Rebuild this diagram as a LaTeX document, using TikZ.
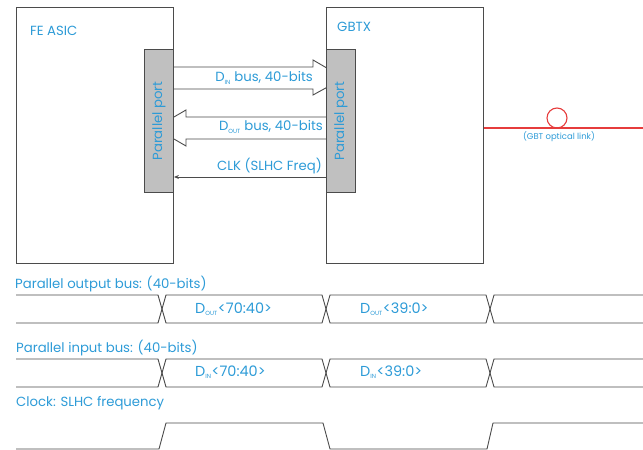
\documentclass[tikz,border=0pt]{standalone}
\usepackage{fontspec}
\setmainfont{Poppins}
\usetikzlibrary{arrows.meta}
\definecolor{textblue}{RGB}{45,155,215}
\definecolor{linegray}{RGB}{75,75,75}
\definecolor{portgray}{RGB}{192,192,192}
\definecolor{linkred}{RGB}{230,60,60}
\newcommand\sbs[1]{\textsubscript{\fontsize{6}{6}\selectfont #1}}
\tikzset{
  chipbox/.style={draw=linegray, line width=0.9bp, fill=white, inner sep=0pt, anchor=north west},
  portbox/.style={draw=linegray, line width=0.9bp, fill=portgray, inner sep=0pt, anchor=north west},
  lbl/.style={text=textblue, font=\fontsize{13.3}{15}\selectfont, inner sep=0pt},
  buslbl/.style={lbl, font=\fontsize{14.5}{16}\selectfont},
  fat/.style={draw=linegray, line width=0.9bp, fill=white},
  wave/.style={draw=linegray, line width=0.9bp, line join=round},
}
\begin{document}
\begin{tikzpicture}[x=1bp, y=-1bp]
\useasboundingbox (0,0) rectangle (643,450);
% chips
\node[chipbox, minimum width=157bp, minimum height=256bp] (fe) at (16,7) {};
\node[chipbox, minimum width=157bp, minimum height=256bp] (gbtx) at (326,7) {};
\node[lbl, anchor=west] (felbl) at (30,31) {FE ASIC};
\node[lbl, anchor=west] (gbtxlbl) at (337,27) {GBTX};
% fat arrows (drawn before ports so ports clip the tips)
\draw[fat] (fe.east |- 0,67) -- (313,67) -- (313,60) -- (344,78) -- (313,95) -- (313,89) -- (fe.east |- 0,89);
\draw[fat] (gbtx.west |- 0,117) -- (186,117) -- (186,110) -- (155,128) -- (186,146) -- (186,139) -- (gbtx.west |- 0,139);
% ports
\node[portbox, minimum width=29bp, minimum height=143bp] (feport) at (144,49) {};
\node[portbox, minimum width=29bp, minimum height=143bp] (gbport) at (326,49) {};
\node[lbl, rotate=90] (feportlbl) at (feport.center) {Parallel port};
\node[lbl, rotate=90] (gbportlbl) at (gbport.center) {Parallel port};
% clock line
\draw[linegray, line width=0.9bp, -{Stealth[length=5bp,width=4bp]}] (gbport.west |- 0,177) -- (feport.east |- 0,177);
% bus labels
\node[lbl, anchor=east] (dinlbl) at (313,78) {D\sbs{IN} bus, 40-bits};
\node[lbl, anchor=east] (doutlbl) at (323,127) {D\sbs{OUT} bus, 40-bits};
\node[lbl, anchor=east] (clklbl) at (322,166) {CLK (SLHC Freq)};
% optical link
\coordinate (linkend) at (643,128);
\draw[linkred, line width=1.2bp] (gbtx.east |- linkend) -- (linkend);
\node[draw=linkred, line width=1.1bp, circle, minimum size=20bp, inner sep=0pt] (ring) at (557,118) {};
\node[lbl, font=\fontsize{8.5}{10}\selectfont] (linklbl) at (559,137) {(GBT optical link)};
% timing labels
\node[lbl, anchor=west] (t1) at (15,284) {Parallel output bus: (40-bits)};
\node[lbl, anchor=west] (t2) at (16,348) {Parallel input bus: (40-bits)};
\node[lbl, anchor=west] (t3) at (16,403) {Clock: SLHC frequency};
% output bus
\draw[wave] (16,295) -- (158,295) -- (166,323) -- (322,323) -- (330,295) -- (486,295) -- (494,323) -- (643,323);
\draw[wave] (16,323) -- (158,323) -- (166,295) -- (322,295) -- (330,323) -- (486,323) -- (494,295) -- (643,295);
\node[buslbl, anchor=west] (do1) at (195,309) {D\sbs{OUT}<70:40>};
\node[buslbl, anchor=west] (do2) at (360,309) {D\sbs{OUT}<39:0>};
% input bus
\draw[wave] (16,359) -- (158,359) -- (166,387) -- (322,387) -- (330,359) -- (486,359) -- (494,387) -- (643,387);
\draw[wave] (16,387) -- (158,387) -- (166,359) -- (322,359) -- (330,387) -- (486,387) -- (494,359) -- (643,359);
\node[buslbl, anchor=west] (di1) at (195,372) {D\sbs{IN}<70:40>};
\node[buslbl, anchor=west] (di2) at (360,372) {D\sbs{IN}<39:0>};
% clock
\draw[wave] (16,449) -- (159,449) -- (166,423) -- (323,423) -- (330,449) -- (487,449) -- (493,423) -- (643,423);
\end{tikzpicture}
\end{document}
